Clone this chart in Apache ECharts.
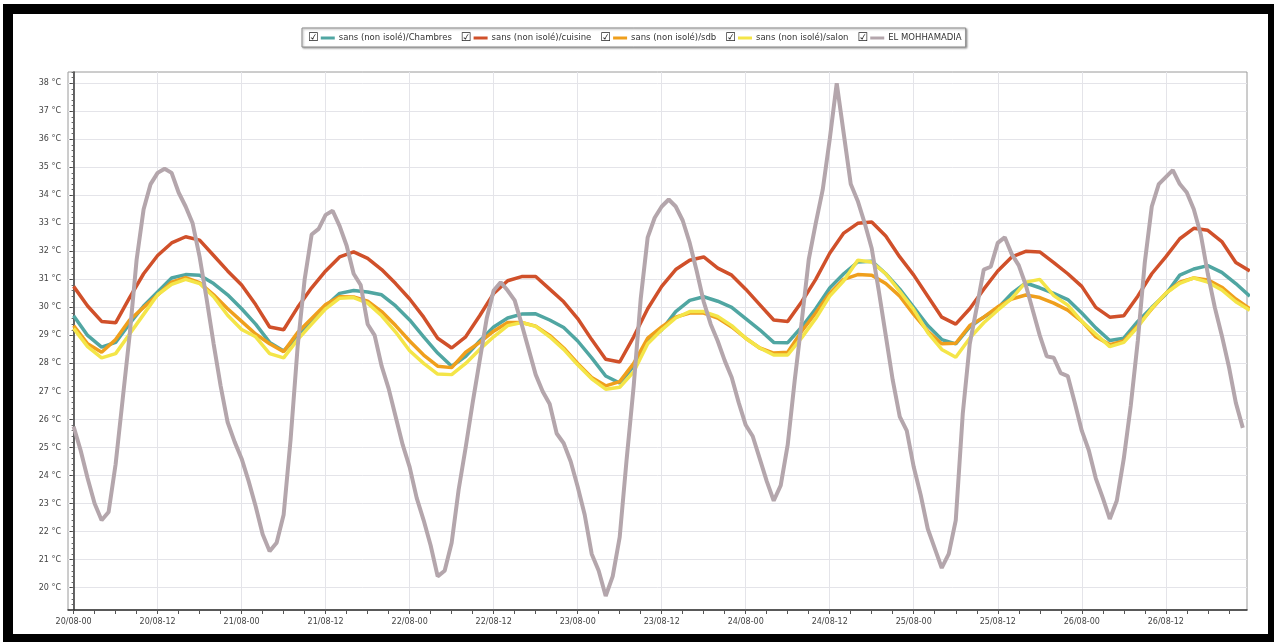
<!DOCTYPE html>
<html>
<head>
<meta charset="utf-8">
<script src="https://cdn.jsdelivr.net/npm/echarts@6/dist/echarts.min.js"></script>
<style>
  html, body { margin: 0; padding: 0; background: #fff; }
  #wrap { position: relative; width: 1274px; height: 642px; overflow: hidden; background: #fff; }
  #chart { position: absolute; left: 0; top: 0; width: 1274px; height: 642px; }
  #frame { position: absolute; left: 3px; top: 4px; right: 0; bottom: 0;
           border-style: solid; border-color: #000; border-width: 10px 6px 8px 10px;
           pointer-events: none; }
</style>
</head>
<body>
<div id="wrap"><div id="chart"></div><div id="frame"></div></div>
<script>
// Series names, in legend order
const seriesNames = [
  'sans (non isolé)/Chambres',
  'sans (non isolé)/cuisine',
  'sans (non isolé)/sdb',
  'sans (non isolé)/salon',
  'EL MOHHAMADIA'
];
const seriesColors = ['#50a6a2', '#d0502a', '#ef9f1c', '#f4e548', '#b4a6ac'];

// Time axis: hours counted from 20/08 00:00
const dateLabels = ['20/08-00', '20/08-12', '21/08-00', '21/08-12', '22/08-00', '22/08-12', '23/08-00',
                    '23/08-12', '24/08-00', '24/08-12', '25/08-00', '25/08-12', '26/08-00', '26/08-12'];
const labelStepHours = 12;
const minorTickStepHours = 3;

// Temperature axis labels (°C)
const tempLabels = [20, 21, 22, 23, 24, 25, 26, 27, 28, 29, 30, 31, 32, 33, 34, 35, 36, 37, 38];

// Indoor readings, every 2 hours from 20/08 00:00
const indoorStepHours = 2;
const chambres = [29.7, 29.0, 28.58, 28.75, 29.42, 30.05, 30.55, 31.05, 31.17, 31.15,
  30.85, 30.45, 29.95, 29.4, 28.75, 28.44, 28.95, 29.5, 30.05, 30.5,
  30.6, 30.55, 30.45, 30.05, 29.55, 28.95, 28.37, 27.9, 28.25, 28.8,
  29.3, 29.62, 29.76, 29.77, 29.55, 29.28, 28.8, 28.2, 27.55, 27.3,
  27.9, 28.8, 29.2, 29.85, 30.25, 30.38, 30.22, 30.0, 29.6, 29.2,
  28.75, 28.74, 29.3, 29.95, 30.69, 31.2, 31.62, 31.65, 31.2, 30.65,
  30.0, 29.35, 28.85, 28.7, 29.3, 29.65, 29.97, 30.5, 30.87, 30.7,
  30.5, 30.28, 29.8, 29.27, 28.82, 28.9, 29.5, 30.0, 30.47, 31.15,
  31.37, 31.49, 31.25, 30.85, 30.4];
const cuisine = [30.75, 30.05, 29.5, 29.45, 30.35, 31.2, 31.85, 32.3, 32.52, 32.4,
  31.85, 31.3, 30.8, 30.1, 29.3, 29.2, 30.0, 30.7, 31.3, 31.8,
  31.98, 31.75, 31.35, 30.85, 30.3, 29.65, 28.9, 28.55, 28.95, 29.7,
  30.5, 30.95, 31.1, 31.1, 30.65, 30.2, 29.6, 28.85, 28.15, 28.05,
  28.95, 29.95, 30.75, 31.35, 31.68, 31.8, 31.4, 31.15, 30.65, 30.1,
  29.55, 29.5, 30.2, 31.0, 31.93, 32.65, 33.0, 33.05, 32.55, 31.8,
  31.15, 30.4, 29.65, 29.4, 29.95, 30.65, 31.3, 31.8, 32.0, 31.98,
  31.6, 31.2, 30.75, 30.0, 29.65, 29.7, 30.4, 31.2, 31.8, 32.45,
  32.82, 32.75, 32.35, 31.6, 31.3];
const sdb = [29.35, 28.7, 28.4, 28.85, 29.55, 30.0, 30.44, 30.9, 31.06, 30.88,
  30.45, 29.95, 29.5, 29.05, 28.7, 28.42, 29.1, 29.6, 30.1, 30.38,
  30.37, 30.22, 29.85, 29.35, 28.8, 28.3, 27.9, 27.85, 28.4, 28.75,
  29.15, 29.46, 29.46, 29.33, 29.0, 28.55, 28.0, 27.5, 27.2, 27.35,
  28.0, 28.9, 29.3, 29.65, 29.8, 29.8, 29.62, 29.3, 28.9, 28.55,
  28.37, 28.4, 29.15, 29.8, 30.5, 31.0, 31.17, 31.15, 30.85, 30.4,
  29.75, 29.15, 28.7, 28.72, 29.35, 29.65, 30.02, 30.3, 30.44, 30.35,
  30.15, 29.9, 29.5, 28.95, 28.67, 28.8, 29.35, 29.95, 30.5, 30.9,
  31.05, 30.98, 30.72, 30.3, 29.95];
const salon = [29.25, 28.6, 28.2, 28.35, 29.05, 29.75, 30.45, 30.82, 31.0, 30.85,
  30.38, 29.72, 29.21, 28.95, 28.35, 28.2, 28.85, 29.4, 29.95, 30.33,
  30.35, 30.15, 29.7, 29.12, 28.45, 28.0, 27.62, 27.6, 28.0, 28.5,
  28.95, 29.35, 29.46, 29.32, 28.95, 28.5, 27.95, 27.45, 27.08, 27.15,
  27.7, 28.7, 29.2, 29.62, 29.85, 29.85, 29.68, 29.35, 28.9, 28.55,
  28.3, 28.3, 28.92, 29.6, 30.4, 30.95, 31.68, 31.62, 31.2, 30.57,
  29.92, 29.1, 28.5, 28.22, 28.9, 29.45, 29.9, 30.32, 30.9, 31.0,
  30.42, 30.08, 29.5, 29.05, 28.6, 28.75, 29.3, 29.97, 30.5, 30.86,
  31.05, 30.9, 30.62, 30.2, 29.9];

// Outdoor station, hourly from 20/08 00:00
const outdoorStepHours = 1;
const elMohhamadia = [25.75, 24.9, 23.9, 23.0, 22.4, 22.7, 24.4, 26.7, 29.0, 31.7,
  33.5, 34.4, 34.8, 34.95, 34.8, 34.1, 33.6, 33.0, 31.8, 30.3,
  28.7, 27.2, 25.9, 25.2, 24.6, 23.8, 22.9, 21.9, 21.3, 21.6,
  22.6, 25.3, 28.6, 31.0, 32.6, 32.8, 33.3, 33.45, 32.9, 32.2,
  31.2, 30.8, 29.4, 29.0, 27.9, 27.1, 26.1, 25.1, 24.3, 23.2,
  22.4, 21.5, 20.4, 20.6, 21.6, 23.5, 25.0, 26.6, 28.1, 29.6,
  30.6, 30.9, 30.6, 30.25, 29.4, 28.5, 27.6, 27.0, 26.55, 25.5,
  25.15, 24.5, 23.6, 22.6, 21.2, 20.6, 19.7, 20.4, 21.8, 24.6,
  27.2, 30.3, 32.5, 33.2, 33.6, 33.85, 33.6, 33.1, 32.3, 31.3,
  30.2, 29.4, 28.8, 28.1, 27.5, 26.6, 25.8, 25.4, 24.6, 23.8,
  23.1, 23.65, 25.1, 27.4, 29.5, 31.7, 33.0, 34.2, 36.0, 38.0,
  36.2, 34.4, 33.8, 33.0, 32.1, 30.6, 29.0, 27.4, 26.1, 25.6,
  24.3, 23.3, 22.1, 21.4, 20.7, 21.2, 22.4, 26.2, 28.7, 30.0,
  31.35, 31.45, 32.3, 32.5, 31.9, 31.5, 30.8, 29.9, 29.0, 28.25,
  28.2, 27.65, 27.55, 26.6, 25.6, 24.9, 23.9, 23.2, 22.45, 23.1,
  24.6, 26.5, 28.8, 31.6, 33.6, 34.4, 34.65, 34.9, 34.4, 34.1,
  33.5, 32.6, 31.2, 30.0, 29.0, 27.9, 26.6, 25.7];

// Axis extents
const xMin = -0.8, xMax = 167.6;
const yMin = 19.2, yMax = 38.4;

const labelHours = dateLabels.map((_, i) => i * labelStepHours);
const minorHours = [];
for (let h = 0; h <= xMax; h += minorTickStepHours) minorHours.push(h);
const minorTemps = [];
for (let k = Math.ceil(yMin * 5); k <= Math.floor(yMax * 5); k++) minorTemps.push(k / 5);

const toPairs = (vals, step) => vals.map((v, i) => [i * step, v]);
const seriesData = [
  toPairs(chambres, indoorStepHours),
  toPairs(cuisine, indoorStepHours),
  toPairs(sdb, indoorStepHours),
  toPairs(salon, indoorStepHours),
  toPairs(elMohhamadia, outdoorStepHours)
];

const font = 'DejaVu Sans';
const rich = {
  cb: { fontFamily: font, fontSize: 12, color: '#222', padding: [0, 2, 0, 0] },
  t: { fontFamily: font, fontSize: 8.5, color: '#333', padding: [0, 0, 0, 4] }
};
seriesColors.forEach((c, i) => {
  rich['l' + i] = { width: 14, height: 3, backgroundColor: c };
});

const chart = echarts.init(document.getElementById('chart'), null, { renderer: 'canvas' });
chart.setOption({
  animation: false,
  backgroundColor: '#fff',
  legend: {
    left: 302, top: 28,
    icon: 'none', itemWidth: 0, itemHeight: 11, itemGap: 4,
    padding: [4, 4, 3, 1],
    backgroundColor: '#fff',
    borderColor: '#8a8a8a', borderWidth: 1,
    shadowColor: 'rgba(0,0,0,0.35)', shadowBlur: 2, shadowOffsetX: 1, shadowOffsetY: 1,
    data: seriesNames,
    formatter: name => '{cb|☑}{l' + seriesNames.indexOf(name) + '|}{t|' + name + '}',
    textStyle: { fontFamily: font, fontSize: 8.5, color: '#333', rich: rich }
  },
  grid: {
    left: 68, right: 27, top: 72, bottom: 32,
    show: true, backgroundColor: '#fff', borderColor: '#9a9a9a', borderWidth: 1
  },
  xAxis: [{
    type: 'value', min: xMin, max: xMax,
    axisLine: { show: true, lineStyle: { color: '#333', width: 1.5 } },
    axisTick: { show: false, customValues: labelHours },
    axisLabel: {
      customValues: labelHours,
      formatter: v => dateLabels[Math.round(v / labelStepHours)],
      fontFamily: font, fontSize: 8, color: '#444', margin: 8
    },
    splitLine: { show: true, lineStyle: { color: '#e4e4e9', width: 1 } }
  }, {
    type: 'value', min: xMin, max: xMax, position: 'bottom',
    axisLine: { show: false },
    axisTick: { show: true, customValues: minorHours, length: 4, lineStyle: { color: '#555' } },
    axisLabel: { show: false },
    splitLine: { show: false }
  }],
  yAxis: [{
    type: 'value', min: yMin, max: yMax,
    axisLine: { show: true, lineStyle: { color: '#333', width: 1.5 } },
    axisTick: { show: true, customValues: tempLabels, length: 4, lineStyle: { color: '#444' } },
    axisLabel: {
      customValues: tempLabels,
      formatter: v => v + ' °C',
      fontFamily: font, fontSize: 8, color: '#444', margin: 7
    },
    splitLine: { show: true, lineStyle: { color: '#e4e4e9', width: 1 } }
  }, {
    type: 'value', min: yMin, max: yMax, position: 'left',
    axisLine: { show: false },
    axisTick: { show: true, customValues: minorTemps, length: 2, lineStyle: { color: '#666' } },
    axisLabel: { show: false },
    splitLine: { show: false }
  }],
  series: seriesNames.map((name, i) => ({
    name: name,
    type: 'line',
    xAxisIndex: 0, yAxisIndex: 0,
    data: seriesData[i],
    symbol: 'none',
    showSymbol: false,
    clip: true,
    lineStyle: { color: seriesColors[i], width: i === 4 ? 4 : 3.5 },
    itemStyle: { color: seriesColors[i] },
    emphasis: { disabled: true }
  }))
});
</script>
</body>
</html>
